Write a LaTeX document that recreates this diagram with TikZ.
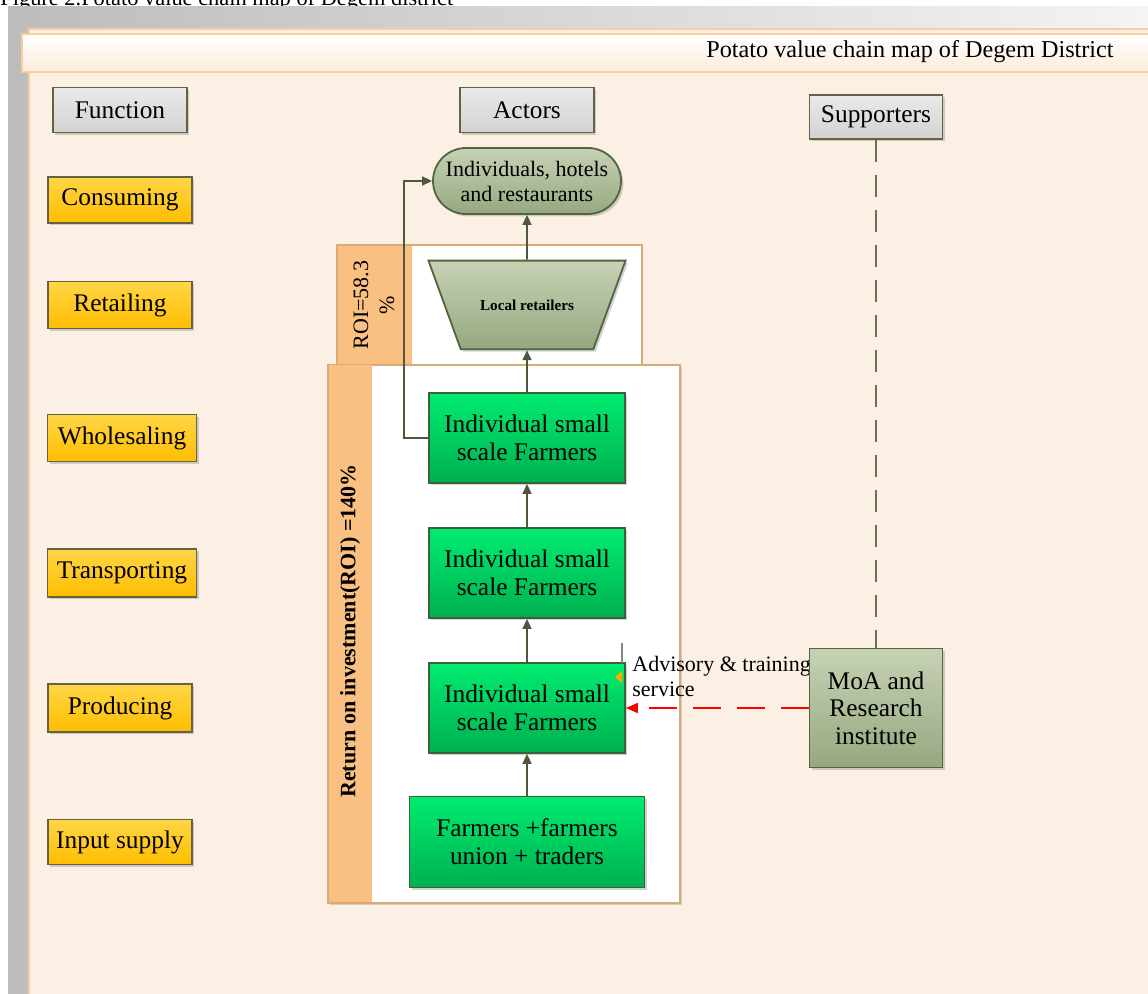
\documentclass[tikz,border=0pt]{standalone}
\usepackage{fontspec}
\setmainfont{Liberation Serif}
\usetikzlibrary{shapes.geometric, shapes.misc, arrows.meta, shadows}
\definecolor{PanelBeige}{RGB}{252,240,228}
\definecolor{FrameGrayL}{RGB}{188,188,188}
\definecolor{FrameGrayR}{RGB}{244,244,244}
\definecolor{TitleEdge}{RGB}{247,204,160}
\definecolor{TitleBot}{RGB}{252,236,218}
\definecolor{BandOrange}{RGB}{250,192,130}
\definecolor{PanelEdge}{RGB}{214,172,120}
\definecolor{BoxEdge}{RGB}{96,100,68}
\definecolor{HeadTop}{RGB}{234,234,234}
\definecolor{HeadBottom}{RGB}{210,210,210}
\definecolor{YellowTop}{RGB}{255,214,70}
\definecolor{YellowBottom}{RGB}{255,190,0}
\definecolor{GreenTop}{RGB}{0,236,112}
\definecolor{GreenBottom}{RGB}{0,176,80}
\definecolor{GreenEdge}{RGB}{58,98,58}
\definecolor{SageTop}{RGB}{198,210,180}
\definecolor{SageBottom}{RGB}{150,168,128}
\definecolor{SageEdge}{RGB}{84,100,62}
\definecolor{ArrowOlive}{RGB}{78,88,58}

\begin{document}
\begin{tikzpicture}[x=0.5pt, y=-0.5pt,
    headbox/.style={draw=BoxEdge, line width=0.9pt, top color=HeadTop, bottom color=HeadBottom,
      minimum width=67pt, minimum height=22.5pt, inner sep=1pt,
      font=\fontsize{12.7}{15}\selectfont,
      drop shadow={shadow xshift=1.2pt, shadow yshift=-1.2pt, opacity=0.35}},
    funcbox/.style={headbox, top color=YellowTop, bottom color=YellowBottom,
      minimum width=72pt, minimum height=23pt},
    farmbox/.style={headbox, draw=GreenEdge, top color=GreenTop, bottom color=GreenBottom,
      minimum width=98pt, minimum height=45pt, align=center,
      font=\fontsize{12.7}{14}\selectfont},
    sagebox/.style={headbox, draw=SageEdge, top color=SageTop, bottom color=SageBottom, align=center},
    arr/.style={draw=ArrowOlive, line width=0.8pt, -{Triangle[length=5pt, width=4.5pt]}},
    supline/.style={draw=ArrowOlive!85, line width=0.9pt, dash pattern=on 11pt off 6.5pt},
    advarr/.style={draw=red, line width=0.9pt, dash pattern=on 14pt off 8pt,
      -{Triangle[length=6pt, width=5pt]}}]
  \useasboundingbox (0,0) rectangle (1148,994);

  % Caption (cut at the top)
  \begin{scope}
    \clip (0,0) rectangle (1148,7);
    \node[anchor=base west, inner sep=0pt, font=\fontsize{11.2}{13}\selectfont] (caption) at (0,6)
      {Figure 2.Potato value chain map of Degem district};
  \end{scope}

  % Frame and panel
  \fill[left color=FrameGrayL, right color=FrameGrayR] (8,7) rectangle (1148,994);
  \fill[PanelBeige] (28,28) rectangle (1148,994);
  \draw[TitleEdge, line width=0.8pt] (29,994) -- (29,29) -- (1148,29);
  \draw[TitleEdge, line width=1pt, top color=white, bottom color=TitleBot] (22,34) rectangle (1152,72);
  \node[font=\fontsize{12.1}{14}\selectfont] (title) at (910,52) {Potato value chain map of Degem District};

  % Functions
  \node[headbox] (func) at (120,110) {Function};
  \node[funcbox] (fcons) at (120,200) {Consuming};
  \node[funcbox, minimum height=23.5pt] (fretail) at (120,305) {Retailing};
  \node[funcbox, minimum width=74.5pt, minimum height=23.5pt] (fwhole) at (122,438) {Wholesaling};
  \node[funcbox, minimum width=74.5pt, minimum height=24pt] (ftrans) at (122,573) {Transporting};
  \node[funcbox, minimum height=24pt] (fprod) at (120,708) {Producing};
  \node[funcbox, minimum height=22.5pt] (finput) at (120,842) {Input supply};

  % ROI panels
  \fill[white] (412,245) rectangle (642,367);
  \fill[BandOrange] (337,245) rectangle (412,367);
  \draw[PanelEdge, line width=0.8pt] (337,245) rectangle (642,367);
  \node[rotate=90, align=center, font=\fontsize{11}{13}\selectfont] (roiretail) at (374,305) {ROI=58.3\\\%};
  \path[fill=white, draw=PanelEdge, line width=0.8pt,
    drop shadow={shadow xshift=1pt, shadow yshift=-1pt, opacity=0.3}] (328,365) rectangle (680,903);
  \fill[BandOrange] (328.5,365.5) rectangle (372,902.5);
  \node[rotate=90, font=\bfseries\fontsize{11}{13}\selectfont] (roifarm) at (350,631)
    {Return on investment(ROI) =140\%};

  % Actors
  \node[headbox] (actors) at (527,110) {Actors};
  \node[headbox, rounded rectangle, draw=SageEdge, top color=SageTop, bottom color=SageBottom,
    minimum width=96pt, minimum height=33pt, align=center,
    font=\fontsize{11}{12.5}\selectfont] (cons) at (527,181) {Individuals, hotels\\and restaurants};
  \node[headbox, trapezium, trapezium angle=70, shape border rotate=180, trapezium stretches body,
    draw=SageEdge, top color=SageTop, bottom color=SageBottom,
    inner xsep=6pt, inner ysep=19.5pt, minimum width=98.5pt, minimum height=0pt,
    font=\bfseries\fontsize{7.6}{9}\selectfont] (retl) at (527,305) {Local retailers};
  \node[farmbox] (farm3) at (527,438) {Individual small\\scale Farmers};
  \node[farmbox] (farm2) at (527,573) {Individual small\\scale Farmers};
  \node[farmbox] (farm1) at (527,708) {Individual small\\scale Farmers};
  \node[farmbox, minimum width=117.5pt, minimum height=45.5pt] (inputs) at (527,842)
    {Farmers +farmers\\union + traders};

  % Supporters
  \node[headbox, minimum width=66.5pt, minimum height=22pt] (supp) at (876,117) {Supporters};
  \draw[ArrowOlive!70, line width=0.8pt] (622,643) -- (622,663);
  \fill[YellowBottom!70!orange] (622,671) -- (615,677) -- (622,683) -- cycle;
  \node[anchor=west, align=left, inner sep=0pt, font=\fontsize{11}{12.5}\selectfont] (advice) at (632,676)
    {Advisory \& training\\service};
  \node[sagebox, minimum width=66.5pt, minimum height=59.5pt,
    font=\fontsize{12.7}{13.8}\selectfont] (moa) at (876,708) {MoA and\\Research\\institute};

  % Flows
  \draw[arr] (inputs.north) -- (farm1.south);
  \draw[arr] (farm1.north) -- (farm2.south);
  \draw[arr] (farm2.north) -- (farm3.south);
  \draw[arr] (farm3.north) -- (retl.south);
  \draw[arr] (retl.north) -- (cons.south);
  \draw[arr] (farm3.west) -- ++(-24,0) |- (cons.west);
  \draw[supline] (supp.south) -- (moa.north);
  \draw[advarr] (moa.west) -- (farm1.east);
\end{tikzpicture}
\end{document}
